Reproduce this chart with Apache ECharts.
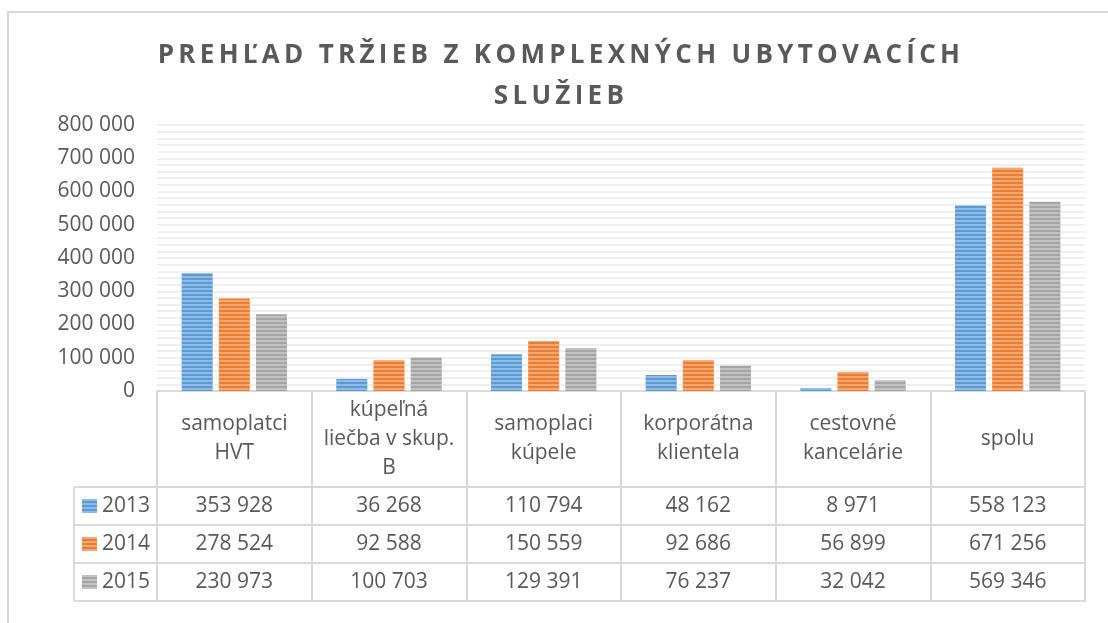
<!DOCTYPE html>
<html>
<head>
<meta charset="utf-8">
<title>Prehľad tržieb z komplexných ubytovacích služieb</title>
<script src="https://cdn.jsdelivr.net/npm/echarts@6.0.0/dist/echarts.min.js"></script>
<style>
    html, body { margin: 0; padding: 0; background: #fff; }
    #wrap { position: relative; width: 1108px; height: 623px; }
    #chart, #title { position: absolute; left: 0; top: 0; width: 1108px; }
    #chart { height: 623px; }
    #title { left: 7px; height: 120px; }
</style>
</head>
<body>
<div id="wrap">
    <div id="chart"></div>
    <div id="title"></div>
</div>
<script>
// data
const titleText = 'PREHĽAD TRŽIEB Z KOMPLEXNÝCH UBYTOVACÍCH\nSLUŽIEB';
const categories = ['samoplatci\nHVT', 'kúpeľná\nliečba v skup.\nB', 'samoplaci\nkúpele', 'korporátna\nklientela', 'cestovné\nkancelárie', 'spolu'];
const years = ['2013', '2014', '2015'];
const values2013 = [353928, 36268, 110794, 48162, 8971, 558123];
const values2014 = [278524, 92588, 150559, 92686, 56899, 671256];
const values2015 = [230973, 100703, 129391, 76237, 32042, 569346];
const yMin = 0, yMax = 800000, yStep = 100000;

const colors = ['#5B9BD5', '#ED7D31', '#A5A5A5'];
const seriesValues = [values2013, values2014, values2015];

// layout
const gridLeft = 157, gridTop = 125, gridWidth = 928, gridHeight = 266;
const headerH = 96, rowH = 38, tableLeft = 74;
const lineColor = '#d9d9d9';
const textColor = '#595959';
const font = 'Open Sans';

function fmt(v) {
    return String(v).replace(/\B(?=(\d{3})+(?!\d))/g, ' ');
}

const stripe = {
    symbol: 'rect',
    symbolSize: 1,
    dashArrayX: [1, 0],
    dashArrayY: [2, 2],
    rotation: 0,
    color: 'rgba(255,255,255,0.32)'
};

// table rows: one category axis per row, offset below the plot
const xAxes = [{
    type: 'category',
    data: categories,
    position: 'bottom',
    axisLine: { show: true, lineStyle: { color: lineColor, width: 2 } },
    axisTick: { show: true, interval: 0, length: headerH + rowH * 3, lineStyle: { color: lineColor, width: 2 } },
    axisLabel: {
        interval: 0, margin: headerH / 2, verticalAlign: 'middle',
        fontFamily: font, fontSize: 21, lineHeight: 29, color: textColor
    },
    splitLine: { show: false }
}];
seriesValues.forEach((vals, i) => {
    xAxes.push({
        type: 'category',
        data: categories,
        position: 'bottom',
        offset: headerH + rowH * i,
        axisLine: { show: true, lineStyle: { color: lineColor, width: 2 } },
        axisTick: { show: false },
        axisLabel: {
            interval: 0, margin: rowH / 2, verticalAlign: 'middle',
            fontFamily: font, fontSize: 21, color: textColor,
            formatter: (v, idx) => fmt(vals[idx])
        },
        splitLine: { show: false }
    });
});
xAxes.push({
    type: 'category',
    data: categories,
    position: 'bottom',
    offset: headerH + rowH * 3,
    axisLine: { show: true, lineStyle: { color: lineColor, width: 2 } },
    axisTick: { show: false },
    axisLabel: { show: false },
    splitLine: { show: false }
});

// legend column lines
const zeroY = gridTop + gridHeight;
const graphics = [{
    type: 'rect',
    shape: { x: 8, y: 12, width: 1200, height: 700 },
    style: { fill: null, stroke: lineColor, lineWidth: 2 },
    silent: true, z: -10
}];
for (let i = 0; i <= 3; i++) {
    const y = zeroY + headerH + rowH * i;
    graphics.push({
        type: 'line',
        shape: { x1: tableLeft, y1: y, x2: gridLeft, y2: y },
        style: { stroke: lineColor, lineWidth: 2 },
        silent: true
    });
}
graphics.push({
    type: 'line',
    shape: { x1: tableLeft, y1: zeroY + headerH, x2: tableLeft, y2: zeroY + headerH + rowH * 3 },
    style: { stroke: lineColor, lineWidth: 2 },
    silent: true
});

const chart = echarts.init(document.getElementById('chart'));
chart.setOption({
    animation: false,
    backgroundColor: '#fff',
    textStyle: { fontFamily: font },
    grid: {
        left: gridLeft, top: gridTop, width: gridWidth, height: gridHeight,
        containLabel: false, outerBoundsMode: 'none'
    },
    legend: {
        data: years,
        orient: 'vertical',
        left: 82,
        top: zeroY + headerH + 7,
        padding: 0,
        icon: 'rect',
        itemWidth: 15,
        itemHeight: 14,
        itemGap: 14,
        selectedMode: false,
        textStyle: { fontFamily: font, fontSize: 21, lineHeight: 24, color: textColor }
    },
    xAxis: xAxes,
    yAxis: {
        type: 'value',
        min: yMin,
        max: yMax,
        interval: yStep,
        axisLine: { show: false },
        axisTick: { show: false },
        axisLabel: { margin: 22, fontFamily: font, fontSize: 21, color: textColor, formatter: fmt },
        splitLine: { show: true, lineStyle: { color: '#efefef', width: 2 } },
        minorTick: { show: false, splitNumber: 5 },
        minorSplitLine: { show: true, lineStyle: { color: '#efefef', width: 2 } }
    },
    series: years.map((y, i) => ({
        name: y,
        type: 'bar',
        data: seriesValues[i],
        barWidth: 31,
        barGap: '20%',
        itemStyle: { color: colors[i], decal: stripe }
    })),
    graphic: graphics
});

// title in its own layer so the canvas can use letter spacing
const titleChart = echarts.init(document.getElementById('title'));
titleChart.setOption({
    animation: false,
    title: {
        text: titleText,
        left: 'center',
        top: 35,
        padding: 0,
        textStyle: { fontFamily: font, fontWeight: 'bold', fontSize: 26, lineHeight: 41, color: textColor }
    }
});
const titleCanvas = document.querySelector('#title canvas');
if (titleCanvas) {
    titleCanvas.getContext('2d').letterSpacing = '4.3px';
    titleChart.getZr().painter.refresh(true);
}
</script>
</body>
</html>
